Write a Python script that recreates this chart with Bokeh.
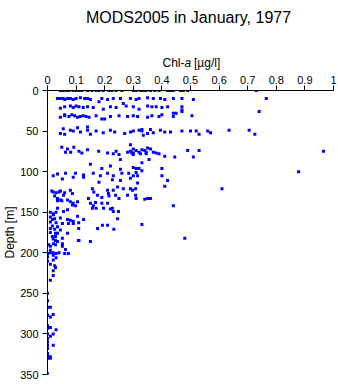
from bokeh.plotting import figure
from bokeh.layouts import column
from bokeh.models import Range1d, FixedTicker
from bokeh.core.properties import value
from bokeh.embed import file_html
from bokeh.resources import INLINE

# ---- data (Chl-a in ug/l, depth in m), grouped by depth band ----
chl_surface = [0.045, 0.055, 0.065, 0.075, 0.09, 0.10, 0.11, 0.12, 0.14, 0.155, 0.17, 0.18,
               0.195, 0.215, 0.225, 0.24, 0.26, 0.30, 0.31, 0.325, 0.335, 0.345, 0.36, 0.375,
               0.39, 0.42, 0.43, 0.44, 0.465, 0.475, 0.49, 0.73]
depth_surface = [0] * 32

chl_10m = [0.035, 0.045, 0.055, 0.06, 0.07, 0.08, 0.09, 0.10, 0.115, 0.13, 0.14, 0.15, 0.19,
           0.21, 0.23, 0.255, 0.29, 0.31, 0.32, 0.35, 0.37, 0.395, 0.41, 0.44, 0.47, 0.51, 0.765]
depth_10m = [10, 10, 10, 11, 10, 10, 11, 10, 9, 10, 10, 11, 10,
             11, 10, 10, 10, 11, 10, 9, 10, 10, 11, 10, 10, 11, 10]

chl_20m = [0.045, 0.06, 0.08, 0.09, 0.10, 0.11, 0.125, 0.14, 0.16, 0.195, 0.22, 0.24, 0.275,
           0.30, 0.32, 0.35, 0.365, 0.38, 0.40, 0.42, 0.47, 0.47, 0.74, 0.18, 0.265]
depth_20m = [22, 20, 19, 21, 19, 20, 21, 20, 21, 23, 20, 21, 19,
             20, 23, 19, 20, 20, 21, 20, 20, 26, 26, 14, 16]

chl_30m = [0.045, 0.06, 0.075, 0.085, 0.095, 0.105, 0.115, 0.125, 0.135, 0.145, 0.17, 0.19,
           0.22, 0.25, 0.28, 0.30, 0.315, 0.35, 0.365, 0.39, 0.40, 0.44, 0.45, 0.505, 0.06,
           0.20, 0.44, 0.47]
depth_30m = [33, 31, 32, 30, 31, 33, 32, 31, 32, 33, 31, 35,
             32, 31, 32, 31, 32, 33, 31, 32, 30, 32, 28, 31, 30,
             35, 28, 24]

chl_50m = [0.045, 0.055, 0.06, 0.08, 0.09, 0.115, 0.14, 0.15, 0.17, 0.195, 0.22, 0.235, 0.27,
           0.29, 0.30, 0.32, 0.33, 0.335, 0.35, 0.37, 0.395, 0.41, 0.43, 0.47, 0.50, 0.52,
           0.53, 0.56, 0.57, 0.635, 0.705, 0.725, 0.14, 0.105, 0.33, 0.36]
depth_50m = [53, 47, 54, 49, 50, 51, 49, 54, 50, 52, 49, 51, 53,
             51, 50, 49, 50, 55, 53, 52, 49, 51, 51, 50, 50, 50,
             54, 50, 52, 49, 49, 54, 45, 46, 48, 48]

chl_75m = [0.05, 0.063, 0.07, 0.081, 0.092, 0.11, 0.14, 0.179, 0.21, 0.23, 0.24, 0.25, 0.255,
           0.28, 0.29, 0.30, 0.32, 0.31, 0.34, 0.36, 0.37, 0.355, 0.39, 0.41, 0.445, 0.49,
           0.51, 0.53, 0.965, 0.12, 0.30, 0.325, 0.345, 0.38, 0.33, 0.29, 0.295, 0.30, 0.33,
           0.345, 0.35]
depth_75m = [70, 76, 72, 76, 70, 75, 73, 75, 77, 78, 75, 79, 85,
             76, 67, 77, 76, 74, 74, 72, 76, 85, 78, 81, 82, 74,
             82, 74, 75, 77, 79, 78, 78, 77, 89, 75, 77, 72, 73,
             76, 71]

chl_100m = [0.15, 0.19, 0.22, 0.255, 0.30, 0.32, 0.02, 0.035, 0.063, 0.098, 0.126, 0.16, 0.185,
            0.21, 0.23, 0.26, 0.284, 0.315, 0.052, 0.09, 0.126, 0.18, 0.227, 0.255, 0.29,
            0.315, 0.31, 0.31, 0.33, 0.30, 0.40, 0.40, 0.42, 0.41, 0.61, 0.878, 0.29]
depth_100m = [91, 96, 93, 97, 95, 96, 105, 103, 102, 102, 104, 102, 105,
              102, 105, 102, 102, 105, 109, 107, 107, 113, 110, 111, 108,
              114, 96, 101, 99, 105, 96, 105, 111, 118, 121, 100, 121]

chl_125m = [0.056, 0.02, 0.04, 0.08, 0.087, 0.157, 0.162, 0.175, 0.21, 0.213, 0.23, 0.238,
            0.245, 0.265, 0.28, 0.297, 0.308, 0.308, 0.143, 0.19, 0.31, 0.36, 0.015, 0.03,
            0.045, 0.06, 0.025, 0.035, 0.05, 0.07, 0.215, 0.25, 0.16, 0.17, 0.34, 0.35, 0.44]
depth_125m = [129, 125, 125, 123, 127, 121, 125, 129, 123, 127, 123, 129,
              119, 121, 129, 123, 121, 129, 133, 132, 133, 133, 124, 126,
              124, 126, 130, 134, 136, 135, 130, 133, 142, 145, 134, 133, 142]

chl_150m = [0.035, 0.035, 0.046, 0.08, 0.09, 0.087, 0.105, 0.098, 0.15, 0.168, 0.19, 0.21,
            0.157, 0.196, 0.227, 0.23, 0.248, 0.035, 0.056, 0.07, 0.045, 0.021, 0.017, 0.017,
            0.052, 0.07, 0.08, 0.09, 0.109, 0.105, 0.126, 0.175, 0.109, 0.192, 0.21, 0.245,
            0.22, 0.073, 0.09, 0.232, 0.33, 0.01, 0.02, 0.03, 0.01, 0.025, 0.01, 0.03, 0.035]
depth_150m = [133, 136, 135, 137, 139, 141, 137, 142, 139, 138, 139, 139,
              145, 145, 145, 149, 149, 145, 149, 147, 157, 153, 159, 167,
              164, 159, 160, 161, 163, 155, 159, 170, 170, 166, 166, 158,
              146, 164, 164, 171, 165, 150, 152, 150, 156, 158, 162, 163, 168]

chl_175m = [0.045, 0.035, 0.07, 0.017, 0.021, 0.052, 0.052, 0.108, 0.15, 0.063, 0.073, 0.0,
            0.004, 0.48, 0.11, 0.052, 0.028, 0.028, 0.028, 0.028, 0.01, 0.01, 0.06, 0.01,
            0.025, 0.01, 0.02, 0.035, 0.01]
depth_175m = [172, 176, 176, 180, 189, 192, 189, 185, 186, 196, 201, 201,
              190, 182, 185, 182, 176, 180, 185, 190, 192, 197, 201, 170,
              171, 175, 183, 186, 200]

chl_deep = [0.0, 0.0, 0.02, 0.028, 0.02, 0.02, 0.01, 0.02, 0.03, 0.01, 0.025, 0.0, 0.02,
            0.03, 0.04, 0.0, 0.0, 0.01, 0.0, 0.02, 0.01, 0.0, 0.0, 0.01, 0.03, 0.0, 0.02,
            0.01, 0.0, 0.0, 0.0, 0.02, 0.0, 0.0, 0.0, 0.0, 0.01, 0.01, 0.0]
depth_deep = [205, 210, 209, 218, 222, 228, 234, 203, 206, 214, 216, 250, 200,
              201, 200, 259, 267, 267, 277, 276, 279, 290, 293, 292, 295, 300, 300,
              303, 306, 310, 314, 314, 318, 324, 327, 330, 328, 330, 349]

chl_values = (chl_surface + chl_10m + chl_20m + chl_30m + chl_50m + chl_75m + chl_100m
              + chl_125m + chl_150m + chl_175m + chl_deep)
depth_values = (depth_surface + depth_10m + depth_20m + depth_30m + depth_50m + depth_75m
                + depth_100m + depth_125m + depth_150m + depth_175m + depth_deep)

x_ticks = [0, 0.1, 0.2, 0.3, 0.4, 0.5, 0.6, 0.7, 0.8, 0.9, 1]
x_tick_labels = ["0", "0.1", "0.2", "0.3", "0.4", "0.5", "0.6", "0.7", "0.8", "0.9", "1"]
y_ticks = [0, 50, 100, 150, 200, 250, 300, 350]

title_text = "MODS2005 in January, 1977"
x_label_parts = ["Chl-", "a", "[µg/l]"]

FONT = "Liberation Sans"
TOP_H = 70
W = 338
FRAME_L, FRAME_R = 47, 333   # the column aligns the header's frame with the main frame

# ---- header strip: title and x-axis label (pixel coordinates, y measured upward) ----
head = figure(width=W, height=TOP_H, output_backend="svg", toolbar_location=None,
              x_range=Range1d(FRAME_L, FRAME_R), y_range=Range1d(0, TOP_H),
              x_axis_type=None, y_axis_type=None,
              min_border=0, min_border_left=0, min_border_right=0,
              min_border_top=0, min_border_bottom=0)
head.outline_line_color = None
head.xgrid.grid_line_color = None
head.ygrid.grid_line_color = None
head.background_fill_color = "white"
head.border_fill_color = "white"

head.text(x=[188], y=[TOP_H - 17], text=[title_text], text_font=value(FONT),
          text_font_size="16px", text_align="center", text_baseline="alphabetic",
          text_color="black")

part_x = [162, 184, 193.5]
part_styles = ["normal", "italic", "normal"]
for part, px, st in zip(x_label_parts, part_x, part_styles):
    head.text(x=[px], y=[TOP_H - 62], text=[part], text_font=value(FONT),
              text_font_size="12px", text_font_style=st, text_align="left",
              text_baseline="alphabetic", text_color="black")

# ---- main scatter ----
p = figure(width=W, height=384 - TOP_H, output_backend="svg", toolbar_location=None,
           x_range=Range1d(0, 1), y_range=Range1d(350, 0),
           x_axis_location="above",
           min_border_left=47, min_border_right=5, min_border_top=90 - TOP_H,
           min_border_bottom=10)

p.outline_line_color = None
p.xgrid.grid_line_color = None
p.ygrid.grid_line_color = None
p.background_fill_color = "white"
p.border_fill_color = "white"

p.scatter(x=chl_values, y=depth_values, marker="square", size=3,
          fill_color="#0000ff", line_color=None)

for ax in (p.xaxis[0], p.yaxis[0]):
    ax.axis_line_color = "black"
    ax.axis_line_width = 1
    ax.major_tick_line_color = "black"
    ax.major_tick_in = 0
    ax.major_tick_out = 5
    ax.minor_tick_line_color = None
    ax.major_label_text_font = FONT
    ax.major_label_text_font_size = "11px"
    ax.major_label_text_color = "black"
    ax.axis_label_text_font = FONT
    ax.axis_label_text_font_size = "12px"
    ax.axis_label_text_font_style = "normal"
    ax.axis_label_text_color = "black"

xa = p.xaxis[0]
xa.ticker = FixedTicker(ticks=x_ticks)
xa.major_label_overrides = {t: l for t, l in zip(x_ticks, x_tick_labels)}
xa.major_label_standoff = 2

ya = p.yaxis[0]
ya.ticker = FixedTicker(ticks=y_ticks)
ya.axis_label = "Depth [m]"
ya.major_label_standoff = 4
ya.axis_label_standoff = 0

layout = column(head, p, spacing=0)

open("out.html", "w").write(file_html(layout, INLINE))
